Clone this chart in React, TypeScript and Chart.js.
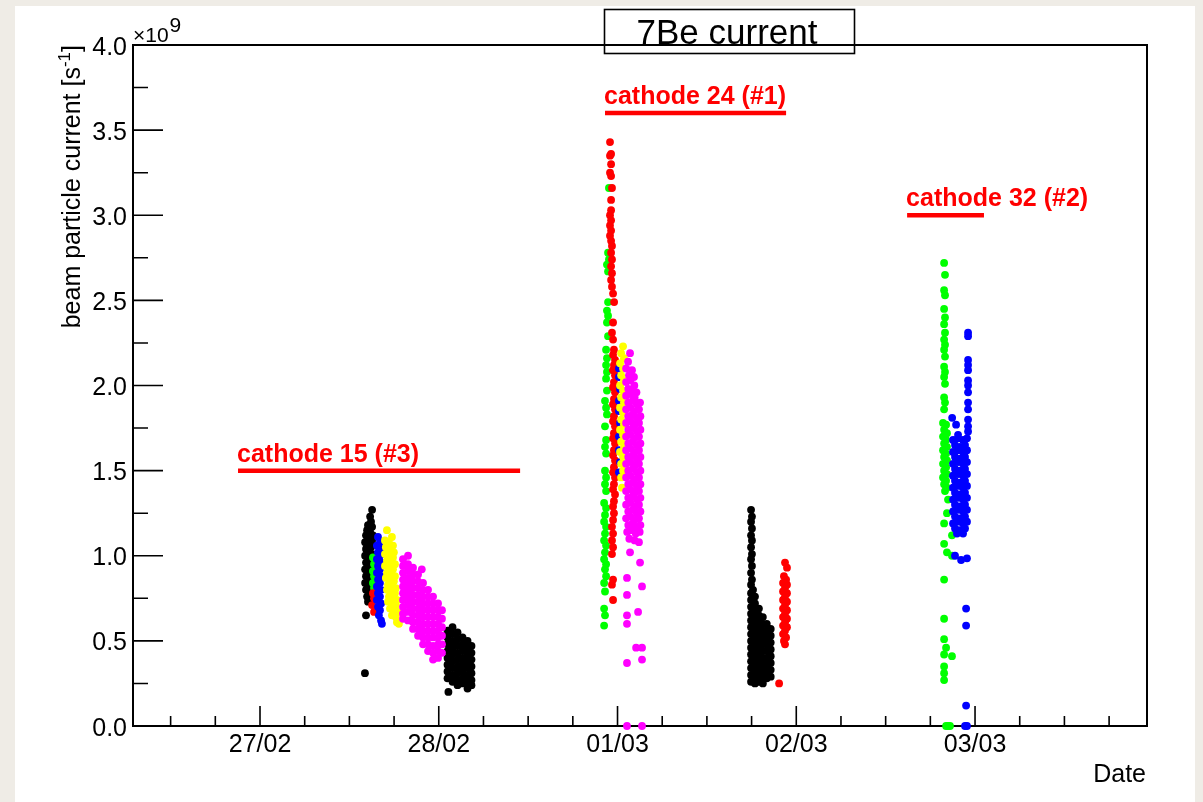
import { useEffect, useRef } from 'react';
import { Chart, registerables } from 'chart.js';

Chart.register(...registerables);

const FONT = '"Liberation Sans", Arial, Helvetica, sans-serif';

// ---- axes / ticks ----
const xDayValues = [0, 1, 2, 3, 4];
const xDayLabels = ['27/02', '28/02', '01/03', '02/03', '03/03'];
const xMinorStep = 0.25;
const yTickValues = [0, 0.5, 1, 1.5, 2, 2.5, 3, 3.5, 4];
const yTickLabels = ['0.0', '0.5', '1.0', '1.5', '2.0', '2.5', '3.0', '3.5', '4.0'];
const xRange = [-0.7105, 4.962];
const yRange = [0, 4];
const titleText = '7Be current';
const xTitle = 'Date';
const yTitleMain = 'beam particle current [s';
const yTitleSup = '-1';
const yTitleEnd = ']';

// ---- cathode annotations ----
const cathodeLabels = ['cathode 15 (#3)', 'cathode 24 (#1)', 'cathode 32 (#2)'];
const cathodeStart = [-0.123, 1.93, 3.62];
const cathodeEnd = [1.455, 2.943, 4.05];
const cathodeLevel = [1.5, 3.6, 3.0];

// ---- data: x = days since 27/02 00:00, y = current in 1e9 s^-1 ----
const black28a: number[][] = [
  [0.627,1.27],[0.616,1.23],[0.621,1.20],[0.604,1.18],[0.627,1.17],[0.599,1.15],[0.616,1.14],[0.632,1.12],
  [0.593,1.12],[0.610,1.10],[0.627,1.09],[0.588,1.08],[0.604,1.07],[0.621,1.05],[0.593,1.04],[0.610,1.02],
  [0.627,1.01],[0.588,1.00],[0.604,0.98],[0.621,0.97],[0.593,0.96],[0.610,0.94],[0.627,0.93],[0.588,0.92],
  [0.604,0.90],[0.621,0.89],[0.593,0.88],[0.610,0.86],[0.627,0.85],[0.588,0.84],[0.604,0.82],[0.621,0.81],
  [0.593,0.80],[0.610,0.78],[0.599,0.76],[0.616,0.75],[0.604,0.73],[0.593,0.65],[0.587,0.31],
];
const green28: number[][] = [[0.632,0.99],[0.638,0.95],[0.632,0.91],[0.638,0.88],[0.632,0.84],[0.638,0.81]];
const red28: number[][] = [[0.632,0.78],[0.638,0.75],[0.627,0.71],[0.638,0.67]];
const blue28: number[][] = [
  [0.660,1.11],[0.671,1.08],[0.654,1.06],[0.677,1.04],[0.660,1.02],[0.671,1.00],[0.654,0.98],[0.677,0.96],
  [0.660,0.94],[0.671,0.92],[0.654,0.90],[0.677,0.88],[0.660,0.86],[0.671,0.84],[0.654,0.82],[0.677,0.80],
  [0.660,0.78],[0.671,0.76],[0.654,0.74],[0.677,0.72],[0.660,0.70],[0.671,0.68],[0.665,0.65],[0.677,0.62],[0.682,0.60],
];
const yellow28: number[][] = [
  [0.710,1.15],[0.738,1.11],[0.699,1.09],[0.721,1.08],[0.744,1.06],[0.704,1.05],[0.727,1.04],[0.749,1.02],
  [0.699,1.01],[0.721,1.00],[0.744,0.99],[0.710,0.97],[0.732,0.96],[0.755,0.95],[0.699,0.94],[0.721,0.93],
  [0.744,0.92],[0.710,0.90],[0.732,0.89],[0.755,0.88],[0.704,0.87],[0.727,0.86],[0.749,0.85],[0.716,0.83],
  [0.738,0.82],[0.760,0.81],[0.710,0.80],[0.732,0.79],[0.755,0.78],[0.721,0.76],[0.744,0.75],[0.766,0.74],
  [0.716,0.73],[0.738,0.72],[0.760,0.71],[0.727,0.69],[0.749,0.68],[0.771,0.67],[0.738,0.65],[0.760,0.64],
  [0.766,0.61],[0.777,0.60],
];
const magenta28: number[][] = [
  [0.800,0.98],[0.800,0.94],[0.800,0.90],[0.800,0.86],[0.800,0.82],[0.800,0.78],[0.800,0.74],[0.800,0.70],[0.800,0.66],[0.800,0.63],
  [0.828,1.00],[0.828,0.95],[0.828,0.91],[0.828,0.87],[0.828,0.83],[0.828,0.79],[0.828,0.75],[0.828,0.71],[0.828,0.67],[0.828,0.62],
  [0.856,0.93],[0.856,0.89],[0.856,0.85],[0.856,0.81],[0.856,0.77],[0.856,0.73],[0.856,0.69],[0.856,0.65],[0.856,0.61],[0.856,0.57],
  [0.884,0.89],[0.884,0.85],[0.884,0.81],[0.884,0.77],[0.884,0.73],[0.884,0.69],[0.884,0.65],[0.884,0.61],[0.884,0.57],[0.884,0.53],
  [0.912,0.84],[0.912,0.80],[0.912,0.76],[0.912,0.72],[0.912,0.68],[0.912,0.64],[0.912,0.60],[0.912,0.56],[0.912,0.52],[0.912,0.48],
  [0.940,0.80],[0.940,0.76],[0.940,0.72],[0.940,0.68],[0.940,0.64],[0.940,0.60],[0.940,0.56],[0.940,0.52],[0.940,0.48],[0.940,0.44],
  [0.968,0.76],[0.968,0.72],[0.968,0.68],[0.968,0.64],[0.968,0.60],[0.968,0.56],[0.968,0.52],[0.968,0.47],[0.968,0.43],[0.968,0.39],
  [0.996,0.72],[0.996,0.68],[0.996,0.64],[0.996,0.60],[0.996,0.56],[0.996,0.52],[0.996,0.48],[0.996,0.44],[0.996,0.40],
  [1.018,0.68],[1.018,0.63],[1.018,0.58],[1.018,0.53],[1.018,0.48],[1.018,0.43],[0.905,0.92],
];
const black28b: number[][] = [
  [1.049,0.56],[1.049,0.52],[1.049,0.48],[1.049,0.44],[1.049,0.40],[1.049,0.36],[1.049,0.32],[1.049,0.28],
  [1.077,0.58],[1.077,0.54],[1.077,0.50],[1.077,0.46],[1.077,0.42],[1.077,0.38],[1.077,0.34],[1.077,0.30],[1.077,0.26],
  [1.105,0.55],[1.105,0.51],[1.105,0.47],[1.105,0.43],[1.105,0.39],[1.105,0.35],[1.105,0.31],[1.105,0.27],[1.105,0.24],
  [1.133,0.52],[1.133,0.48],[1.133,0.44],[1.133,0.40],[1.133,0.36],[1.133,0.32],[1.133,0.28],[1.133,0.25],
  [1.161,0.50],[1.161,0.46],[1.161,0.42],[1.161,0.38],[1.161,0.34],[1.161,0.30],[1.161,0.26],[1.161,0.22],
  [1.183,0.47],[1.183,0.43],[1.183,0.39],[1.183,0.35],[1.183,0.31],[1.183,0.27],[1.183,0.24],[1.054,0.20],
];
const green01: number[][] = [
  [1.952,3.16],[1.947,2.78],[1.952,2.74],[1.941,2.71],[1.947,2.67],[1.947,2.49],[1.941,2.44],[1.947,2.41],
  [1.941,2.37],[1.947,2.29],[1.936,2.21],[1.941,2.16],[1.936,2.12],[1.941,2.08],[1.936,2.04],[1.941,1.97],
  [1.930,1.91],[1.936,1.87],[1.941,1.83],[1.930,1.76],[1.936,1.68],[1.930,1.64],[1.936,1.60],[1.930,1.50],
  [1.936,1.46],[1.930,1.42],[1.936,1.38],[1.925,1.31],[1.936,1.28],[1.930,1.24],[1.925,1.20],[1.936,1.17],
  [1.930,1.13],[1.925,1.09],[1.936,1.06],[1.930,1.02],[1.925,0.98],[1.936,0.95],[1.930,0.92],[1.936,0.88],
  [1.925,0.84],[1.930,0.79],[1.925,0.69],[1.930,0.65],[1.925,0.59],
];
const red01: number[][] = [
  [1.958,3.43],[1.964,3.36],[1.958,3.35],[1.964,3.30],[1.958,3.25],[1.964,3.23],[1.969,3.16],[1.964,3.09],
  [1.964,3.03],[1.958,3.00],[1.964,2.97],[1.958,2.94],[1.964,2.91],[1.958,2.88],[1.964,2.85],[1.969,2.82],
  [1.964,2.78],[1.969,2.74],[1.964,2.70],[1.969,2.66],[1.964,2.62],[1.969,2.58],[1.975,2.54],[1.981,2.49],
  [1.975,2.37],[1.969,2.31],[1.975,2.27],[1.980,2.21],[1.975,2.18],[1.986,2.15],[1.980,2.12],[1.975,2.09],
  [1.986,2.06],[1.980,2.02],[1.975,1.99],[1.986,1.96],[1.980,1.92],[1.975,1.89],[1.986,1.86],[1.980,1.82],
  [1.975,1.79],[1.986,1.76],[1.980,1.72],[1.975,1.69],[1.986,1.66],[1.980,1.62],[1.975,1.59],[1.986,1.56],
  [1.980,1.52],[1.975,1.49],[1.986,1.46],[1.980,1.42],[1.975,1.39],[1.986,1.36],[1.980,1.32],[1.975,1.29],
  [1.980,1.25],[1.975,1.21],[1.969,1.17],[1.975,1.13],[1.969,1.09],[1.975,1.05],[1.969,1.01],[1.975,0.86],
  [1.969,0.83],[1.975,0.74],
];
const yellow01: number[][] = [
  [2.031,2.23],[2.020,2.19],[2.036,2.16],[2.014,2.13],[2.031,2.10],[2.020,2.06],[2.036,2.03],[2.014,2.00],
  [2.031,1.97],[2.020,1.93],[2.036,1.90],[2.014,1.87],[2.031,1.84],[2.020,1.80],[2.036,1.77],[2.014,1.74],
  [2.031,1.71],[2.020,1.67],[2.036,1.64],[2.014,1.61],[2.031,1.58],[2.020,1.54],[2.031,1.50],[2.020,1.46],[2.025,1.40],
];
const blue01: number[][] = [
  [2.008,2.10],[2.008,2.05],[2.014,1.98],[2.008,1.91],[2.008,1.85],[2.014,1.78],[2.008,1.70],[2.008,1.62],[2.014,1.55],[2.008,1.49],
];
const magenta01: number[][] = [
  [2.070,2.19],[2.059,2.14],[2.048,2.10],[2.081,2.09],[2.064,2.06],[2.092,2.05],
  [2.048,2.02],[2.072,2.03],[2.094,2.00],[2.060,1.98],[2.084,1.97],[2.106,1.96],
  [2.048,1.94],[2.072,1.95],[2.096,1.93],[2.060,1.90],[2.084,1.91],[2.108,1.89],[2.126,1.90],
  [2.048,1.86],[2.072,1.87],[2.096,1.85],[2.120,1.86],[2.060,1.82],[2.084,1.83],[2.108,1.81],[2.128,1.82],
  [2.048,1.78],[2.072,1.79],[2.096,1.77],[2.120,1.78],[2.060,1.74],[2.084,1.75],[2.108,1.73],[2.128,1.74],
  [2.048,1.70],[2.072,1.71],[2.096,1.69],[2.120,1.70],[2.060,1.66],[2.084,1.67],[2.108,1.65],[2.128,1.66],
  [2.048,1.62],[2.072,1.63],[2.096,1.61],[2.120,1.62],[2.060,1.58],[2.084,1.59],[2.108,1.57],[2.128,1.58],
  [2.048,1.54],[2.072,1.55],[2.096,1.53],[2.120,1.54],[2.060,1.50],[2.084,1.51],[2.108,1.49],[2.128,1.50],
  [2.048,1.46],[2.072,1.47],[2.096,1.45],[2.120,1.46],[2.060,1.42],[2.084,1.43],[2.108,1.41],[2.128,1.42],
  [2.048,1.38],[2.072,1.39],[2.096,1.37],[2.120,1.38],[2.060,1.34],[2.084,1.35],[2.108,1.33],[2.128,1.34],
  [2.048,1.30],[2.072,1.31],[2.096,1.29],[2.120,1.30],[2.060,1.26],[2.084,1.27],[2.108,1.25],[2.128,1.26],
  [2.048,1.22],[2.072,1.23],[2.096,1.21],[2.120,1.22],[2.060,1.18],[2.084,1.19],[2.108,1.17],[2.128,1.18],
  [2.054,1.14],[2.078,1.15],[2.102,1.13],[2.124,1.14],[2.066,1.10],[2.096,1.09],[2.120,1.08],
  [2.070,1.02],[2.126,0.96],[2.053,0.87],[2.137,0.82],[2.053,0.77],[2.115,0.67],[2.053,0.65],[2.053,0.60],
  [2.104,0.46],[2.137,0.46],[2.053,0.37],[2.137,0.39],[2.053,0.0],[2.137,0.0],
];
const black02: number[][] = [
  [2.747,1.27],[2.752,1.23],[2.747,1.20],[2.752,1.16],[2.747,1.12],[2.752,1.09],[2.747,1.05],[2.752,1.01],
  [2.747,0.98],[2.752,0.94],[2.747,0.90],[2.752,0.86],[2.747,0.83],[2.758,0.80],
  [2.747,0.78],[2.747,0.74],[2.747,0.70],[2.747,0.66],[2.747,0.62],[2.747,0.58],[2.747,0.54],[2.747,0.50],
  [2.747,0.46],[2.747,0.42],[2.747,0.38],[2.747,0.34],[2.747,0.30],[2.747,0.26],
  [2.769,0.76],[2.769,0.72],[2.769,0.68],[2.769,0.64],[2.769,0.60],[2.769,0.56],[2.769,0.52],[2.769,0.48],
  [2.769,0.44],[2.769,0.40],[2.769,0.36],[2.769,0.32],[2.769,0.28],[2.769,0.25],
  [2.791,0.69],[2.791,0.65],[2.791,0.61],[2.791,0.57],[2.791,0.53],[2.791,0.49],[2.791,0.45],[2.791,0.41],
  [2.791,0.37],[2.791,0.33],[2.791,0.29],[2.791,0.26],
  [2.813,0.64],[2.813,0.60],[2.813,0.56],[2.813,0.52],[2.813,0.48],[2.813,0.44],[2.813,0.40],[2.813,0.36],
  [2.813,0.32],[2.813,0.28],[2.813,0.25],
  [2.835,0.60],[2.835,0.56],[2.835,0.52],[2.835,0.48],[2.835,0.44],[2.835,0.40],[2.835,0.36],[2.835,0.32],[2.835,0.28],
  [2.857,0.57],[2.857,0.53],[2.857,0.49],[2.857,0.45],[2.857,0.41],[2.857,0.37],[2.857,0.33],[2.857,0.29],
];
const red02: number[][] = [
  [2.937,0.96],[2.948,0.93],[2.931,0.88],[2.943,0.86],[2.926,0.84],[2.948,0.83],[2.937,0.81],[2.926,0.79],
  [2.948,0.78],[2.937,0.76],[2.926,0.74],[2.948,0.73],[2.937,0.71],[2.926,0.69],[2.948,0.68],[2.937,0.66],
  [2.926,0.64],[2.948,0.63],[2.937,0.61],[2.926,0.59],[2.948,0.58],[2.937,0.56],[2.926,0.54],[2.943,0.52],
  [2.931,0.50],[2.937,0.48],[2.904,0.25],
];
const green03: number[][] = [
  [3.827,2.72],[3.832,2.65],[3.827,2.56],[3.832,2.53],[3.827,2.45],[3.832,2.40],[3.827,2.36],[3.832,2.31],
  [3.827,2.27],[3.832,2.24],[3.827,2.21],[3.832,2.17],[3.827,2.11],[3.832,2.08],[3.827,2.05],[3.832,2.01],
  [3.827,1.93],[3.832,1.90],[3.827,1.86],
  [3.821,1.78],[3.838,1.77],[3.827,1.74],[3.843,1.72],[3.821,1.70],[3.838,1.68],[3.827,1.66],[3.843,1.64],
  [3.821,1.62],[3.838,1.60],[3.827,1.58],[3.843,1.56],[3.821,1.54],[3.838,1.52],[3.827,1.50],[3.843,1.48],
  [3.821,1.46],[3.838,1.44],[3.827,1.42],[3.843,1.40],[3.832,1.38],
  [3.849,1.33],[3.843,1.25],[3.827,1.19],[3.871,1.12],[3.827,1.07],[3.843,1.02],[3.871,1.00],[3.827,0.86],
  [3.827,0.63],[3.827,0.51],[3.838,0.46],[3.871,0.41],[3.827,0.42],[3.827,0.35],[3.827,0.31],[3.827,0.27],
  [3.838,0.0],[3.849,0.0],[3.860,0.0],
];
const blue03: number[][] = [
  [3.961,2.31],[3.961,2.29],[3.961,2.15],[3.961,2.12],[3.961,2.09],[3.961,2.03],[3.961,2.00],[3.961,1.96],
  [3.961,1.90],[3.961,1.86],[3.961,1.80],[3.961,1.76],[3.961,1.73],
  [3.872,1.81],[3.894,1.77],[3.905,1.71],
  [3.877,1.68],[3.905,1.69],[3.933,1.68],[3.955,1.69],
  [3.888,1.65],[3.916,1.64],[3.944,1.65],
  [3.877,1.61],[3.905,1.62],[3.933,1.61],[3.955,1.62],
  [3.888,1.58],[3.916,1.57],[3.944,1.58],
  [3.877,1.54],[3.905,1.55],[3.933,1.54],[3.955,1.55],
  [3.888,1.51],[3.916,1.50],[3.944,1.51],
  [3.877,1.47],[3.905,1.48],[3.933,1.47],[3.955,1.48],
  [3.888,1.44],[3.916,1.43],[3.944,1.44],
  [3.877,1.40],[3.905,1.41],[3.933,1.40],[3.955,1.41],
  [3.888,1.37],[3.916,1.36],[3.944,1.37],
  [3.877,1.33],[3.905,1.34],[3.933,1.33],[3.955,1.34],
  [3.888,1.30],[3.916,1.29],[3.944,1.30],
  [3.877,1.26],[3.905,1.27],[3.933,1.26],[3.955,1.27],
  [3.888,1.23],[3.916,1.22],[3.944,1.23],
  [3.877,1.19],[3.905,1.20],[3.933,1.19],[3.955,1.20],
  [3.888,1.16],[3.916,1.15],[3.944,1.16],
  [3.899,1.13],[3.933,1.13],
  [3.888,1.00],[3.922,0.975],[3.955,0.985],[3.950,0.69],[3.950,0.59],[3.950,0.12],[3.944,0.0],[3.955,0.0],
];

const toPts = (arr: number[][]) => arr.map(([x, y]) => ({ x, y }));

const rootPlugin = {
  id: 'rootStyle',
  beforeDraw(chart: any) {
    const ctx = chart.ctx;
    ctx.save();
    ctx.fillStyle = '#efece6';
    ctx.fillRect(0, 0, chart.width, chart.height);
    ctx.fillStyle = '#ffffff';
    ctx.fillRect(15, 6, 1180, 796);
    ctx.restore();
  },
  beforeDatasetsDraw(chart: any) {
    const ctx = chart.ctx;
    const { left, right, top, bottom } = chart.chartArea;
    const xs = chart.scales.x;
    const ys = chart.scales.y;
    ctx.save();
    ctx.strokeStyle = '#000';
    ctx.lineWidth = 2;
    ctx.strokeRect(left, top, right - left, bottom - top);
    ctx.lineWidth = 1.6;
    ctx.beginPath();
    for (let i = 0; i < yTickValues.length; i++) {
      const py = ys.getPixelForValue(yTickValues[i]);
      ctx.moveTo(left, py);
      ctx.lineTo(left + 30, py);
      if (i < yTickValues.length - 1) {
        const pm = ys.getPixelForValue((yTickValues[i] + yTickValues[i + 1]) / 2);
        ctx.moveTo(left, pm);
        ctx.lineTo(left + 15, pm);
      }
    }
    const startQ = Math.ceil(xRange[0] / xMinorStep);
    const endQ = Math.floor(xRange[1] / xMinorStep);
    for (let q = startQ; q <= endQ; q++) {
      const v = q * xMinorStep;
      const px = xs.getPixelForValue(v);
      const major = xDayValues.includes(v);
      ctx.moveTo(px, bottom);
      ctx.lineTo(px, bottom - (major ? 20 : 10));
    }
    ctx.stroke();
    ctx.restore();
  },
  afterDatasetsDraw(chart: any) {
    const ctx = chart.ctx;
    const { left, right, top, bottom } = chart.chartArea;
    const xs = chart.scales.x;
    const ys = chart.scales.y;
    ctx.save();
    ctx.fillStyle = '#000';
    ctx.font = `25px ${FONT}`;
    ctx.textAlign = 'right';
    ctx.textBaseline = 'alphabetic';
    yTickValues.forEach((v, i) => {
      ctx.fillText(yTickLabels[i], left - 6, ys.getPixelForValue(v) + 9.5);
    });
    ctx.textAlign = 'center';
    xDayValues.forEach((v, i) => {
      ctx.fillText(xDayLabels[i], xs.getPixelForValue(v), bottom + 26);
    });
    ctx.textAlign = 'right';
    ctx.fillText(xTitle, right - 1, 782);
    ctx.textAlign = 'left';
    ctx.font = `21px ${FONT}`;
    ctx.fillText('\u00d710', left, top - 3);
    const w10 = ctx.measureText('\u00d710').width;
    ctx.fillText('9', left + w10 + 1, top - 13);
    ctx.save();
    ctx.translate(80, top);
    ctx.rotate(-Math.PI / 2);
    ctx.font = `25px ${FONT}`;
    const w1 = ctx.measureText(yTitleMain).width;
    const w3 = ctx.measureText(yTitleEnd).width;
    ctx.font = `17px ${FONT}`;
    const w2 = ctx.measureText(yTitleSup).width;
    const W = w1 + w2 + w3;
    ctx.textAlign = 'left';
    ctx.font = `25px ${FONT}`;
    ctx.fillText(yTitleMain, -W, 0);
    ctx.font = `17px ${FONT}`;
    ctx.fillText(yTitleSup, -W + w1, -10);
    ctx.font = `25px ${FONT}`;
    ctx.fillText(yTitleEnd, -W + w1 + w2, 0);
    ctx.restore();
    ctx.fillStyle = '#ff0000';
    ctx.font = `bold 25px ${FONT}`;
    ctx.textAlign = 'left';
    cathodeLabels.forEach((t, i) => {
      ctx.fillText(t, xs.getPixelForValue(cathodeStart[i]) - 1, ys.getPixelForValue(cathodeLevel[i]) - 9);
    });
    ctx.fillStyle = '#000';
    ctx.font = `35px ${FONT}`;
    ctx.textAlign = 'center';
    ctx.fillText(titleText, 727, 44);
    ctx.strokeStyle = '#000';
    ctx.lineWidth = 1.6;
    ctx.strokeRect(604.5, 9.5, 250, 44);
    ctx.restore();
  },
};

function scatterSet(label: string, color: string, data: number[][], order: number) {
  return {
    label,
    data: toPts(data),
    backgroundColor: color,
    borderColor: color,
    borderWidth: 0,
    pointRadius: 3.9,
    pointHoverRadius: 3.9,
    showLine: false,
    clip: false as any,
    order,
  };
}

export default function App() {
  const ref = useRef<HTMLCanvasElement | null>(null);
  useEffect(() => {
    if (!ref.current) return;
    const lineSets = cathodeLabels.map((label, i) => ({
      label,
      data: [
        { x: cathodeStart[i], y: cathodeLevel[i] },
        { x: cathodeEnd[i], y: cathodeLevel[i] },
      ],
      showLine: true,
      borderColor: '#ff0000',
      backgroundColor: '#ff0000',
      borderWidth: 4.5,
      pointRadius: 0,
      borderCapStyle: 'butt',
      clip: false as any,
      order: 0,
    }));
    const chart = new Chart(ref.current, {
      type: 'scatter',
      data: {
        datasets: [
          ...lineSets,
          scatterSet('magenta', '#ff00ff', [...magenta28, ...magenta01], 1),
          scatterSet('yellow', '#ffff00', [...yellow28, ...yellow01], 2),
          scatterSet('blue', '#0000ff', [...blue28, ...blue01, ...blue03], 3),
          scatterSet('red', '#ff0000', [...red28, ...red01, ...red02], 4),
          scatterSet('green', '#00ff00', [...green28, ...green01, ...green03], 5),
          scatterSet('black', '#000000', [...black28a, ...black28b, ...black02], 6),
        ] as any,
      },
      options: {
        animation: false,
        responsive: false,
        devicePixelRatio: 1,
        events: [],
        layout: { padding: { left: 133, top: 45, right: 56, bottom: 76 } },
        plugins: { legend: { display: false }, tooltip: { enabled: false } },
        scales: {
          x: { type: 'linear', min: xRange[0], max: xRange[1], display: false },
          y: { type: 'linear', min: yRange[0], max: yRange[1], display: false },
        },
      },
      plugins: [rootPlugin],
    });
    return () => chart.destroy();
  }, []);
  return (
    <div style={{ position: 'fixed', left: 0, top: 0, width: 1203, height: 802 }}>
      <canvas ref={ref} width={1203} height={802} style={{ display: 'block' }} />
    </div>
  );
}
